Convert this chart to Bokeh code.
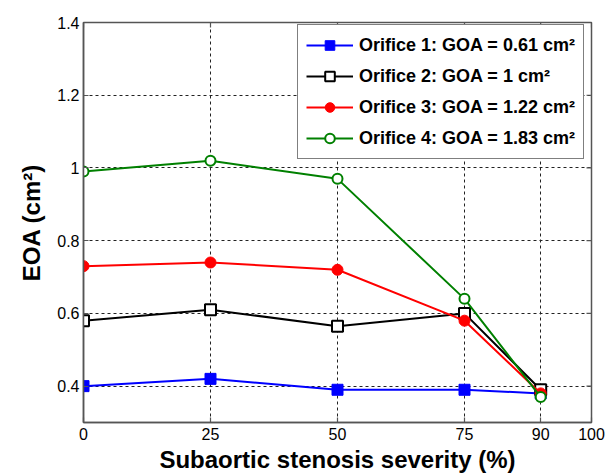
import math
from bokeh.plotting import figure
from bokeh.models import FixedTicker, Range1d, Legend, LegendItem
from bokeh.embed import file_html
from bokeh.resources import INLINE

# ---- data ----
severity = [0, 25, 50, 75, 90]
orifice1 = [0.40, 0.42, 0.39, 0.39, 0.38]
orifice2 = [0.58, 0.61, 0.565, 0.60, 0.39]
orifice3 = [0.73, 0.74, 0.72, 0.58, 0.38]
orifice4 = [0.99, 1.02, 0.97, 0.64, 0.37]
labels = ["Orifice 1: GOA = 0.61 cm²", "Orifice 2: GOA = 1 cm²",
          "Orifice 3: GOA = 1.22 cm²", "Orifice 4: GOA = 1.83 cm²"]
x_ticks = [0, 25, 50, 75, 90, 100]
y_ticks = [0.4, 0.6, 0.8, 1.0, 1.2, 1.4]
y_tick_labels = ["0.4", "0.6", "0.8", "1", "1.2", "1.4"]
X_MIN, X_MAX = 0, 100
Y_MIN, Y_MAX = 0.3, 1.4

FONT = "Liberation Sans"
AX = "#555555"

p = figure(frame_width=508, frame_height=400, output_backend="svg", toolbar_location=None,
           x_range=Range1d(X_MIN, X_MAX), y_range=Range1d(Y_MIN, Y_MAX),
           min_border_left=83, min_border_right=24, min_border_top=22, min_border_bottom=51)
p.background_fill_color = "white"
p.border_fill_color = "white"
p.outline_line_color = AX
p.outline_line_width = 1.5

for ax in (p.xaxis[0], p.yaxis[0]):
    ax.major_tick_in = 5
    ax.major_tick_out = 0
    ax.minor_tick_in = 0
    ax.minor_tick_out = 0
    ax.axis_line_color = AX
    ax.axis_line_width = 1.5
    ax.major_tick_line_color = AX
    ax.major_tick_line_width = 1.2
    ax.major_label_text_font = FONT
    ax.major_label_text_font_size = "16px"
    ax.major_label_text_color = "black"
    ax.axis_label_text_font = FONT
    ax.axis_label_text_font_size = "24px"
    ax.axis_label_text_font_style = "bold"
    ax.axis_label_text_color = "black"

p.xaxis.ticker = FixedTicker(ticks=x_ticks)
p.yaxis.ticker = FixedTicker(ticks=y_ticks)
p.yaxis.major_label_overrides = {t: l for t, l in zip(y_ticks, y_tick_labels)}
p.xaxis.axis_label = "Subaortic stenosis severity (%)"
p.yaxis.axis_label = "EOA (cm²)"
p.xaxis.major_label_standoff = 5
p.yaxis.major_label_standoff = 4
p.xaxis.axis_label_standoff = 3
p.yaxis.axis_label_standoff = 9

# mirrored inward ticks on top and right edges (clipped to the frame)
p.scatter(x_ticks, [Y_MAX] * len(x_ticks), marker="dash", angle=math.pi / 2, size=10,
          line_color=AX, line_width=1.2)
p.scatter([X_MAX] * len(y_ticks), y_ticks, marker="dash", size=10,
          line_color=AX, line_width=1.2)

p.xgrid.grid_line_color = "#222222"
p.ygrid.grid_line_color = "#222222"
p.xgrid.grid_line_dash = "3 3"
p.ygrid.grid_line_dash = "3 3"
p.xgrid.grid_line_width = 1
p.ygrid.grid_line_width = 1

l1 = p.line(severity, orifice1, line_color="blue", line_width=2)
m1 = p.scatter(severity, orifice1, marker="square", size=11, fill_color="blue", line_color="blue")
l2 = p.line(severity, orifice2, line_color="black", line_width=2)
m2 = p.scatter(severity, orifice2, marker="square", size=11, fill_color="white", line_color="black", line_width=2)
l3 = p.line(severity, orifice3, line_color="red", line_width=2)
m3 = p.scatter(severity, orifice3, marker="circle", size=11, fill_color="red", line_color="red")
l4 = p.line(severity, orifice4, line_color="green", line_width=2)
m4 = p.scatter(severity, orifice4, marker="circle", size=10, fill_color="white", line_color="green", line_width=2)

legend = Legend(items=[LegendItem(label=labels[0], renderers=[l1, m1]),
                       LegendItem(label=labels[1], renderers=[l2, m2]),
                       LegendItem(label=labels[2], renderers=[l3, m3]),
                       LegendItem(label=labels[3], renderers=[l4, m4])],
                location=(214, 263), orientation="vertical")
legend.label_text_font = FONT
legend.label_text_font_size = "18px"
legend.label_text_font_style = "bold"
legend.label_text_color = "black"
legend.glyph_width = 47
legend.glyph_height = 24
legend.label_height = 24
legend.spacing = 7
legend.padding = 8
legend.margin = 0
legend.label_standoff = 6
legend.border_line_color = "black"
legend.border_line_width = 1
legend.background_fill_color = "white"
legend.background_fill_alpha = 1
p.add_layout(legend, "center")

open("out.html", "w").write(file_html(p, INLINE))
